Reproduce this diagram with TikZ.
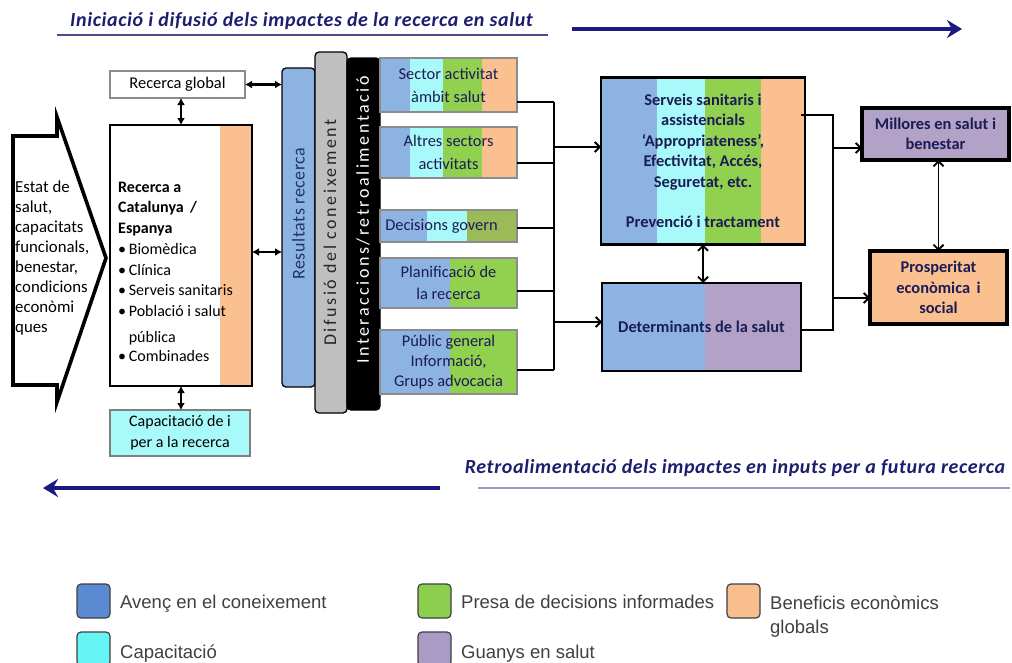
\documentclass[tikz,border=0pt]{standalone}
\usepackage{fontspec}
\setmainfont{Carlito}
\newfontfamily\legendfont{Liberation Sans}
\newfontfamily\barfont[LetterSpace=14]{Carlito}
\newfontfamily\resfont[LetterSpace=3]{Carlito}
\newfontfamily\headfont[LetterSpace=3]{Carlito}
\usetikzlibrary{arrows.meta,calc}

\definecolor{cBlue}{HTML}{8DB3E2}
\definecolor{cCyan}{HTML}{A8FAFA}
\definecolor{cGreen}{HTML}{92D050}
\definecolor{cOlive}{HTML}{9BBB59}
\definecolor{cOrange}{HTML}{FAC090}
\definecolor{cPurple}{HTML}{B3A2C7}
\definecolor{cGray}{HTML}{BFBFBF}
\definecolor{navy}{HTML}{1A1A82}
\definecolor{titleNavy}{HTML}{1E1E70}
\definecolor{txtNavy}{HTML}{1C1C55}
\definecolor{resNavy}{HTML}{1F3763}
\definecolor{lBlue}{HTML}{5A8AD2}
\definecolor{lCyan}{HTML}{66F4F4}
\definecolor{lGreen}{HTML}{8CCF4E}
\definecolor{lPurple}{HTML}{A99BC6}
\definecolor{lOrange}{HTML}{F8BE8E}

\tikzset{
  box/.style={inner sep=0pt, outer sep=0pt, align=center},
  graybox/.style={box, draw=black!45, line width=1.3pt},
  blackbox/.style={box, draw=black, line width=2pt},
  heavybox/.style={box, draw=black, line width=3.6pt},
  bar/.style={box, draw=black, line width=1.3pt, rounded corners=4pt},
  bartext/.style={rotate=90, inner sep=0pt},
  conn/.style={line width=1.8pt},
  arr/.style={conn, -{Straight Barb[length=5pt,width=10pt]}},
  dbl/.style={line width=2.2pt, {Latex[length=7pt,width=8pt]}-{Latex[length=7pt,width=8pt]}},
  dblbarb/.style={conn, {Straight Barb[length=5pt,width=10pt]}-{Straight Barb[length=5pt,width=10pt]}},
  bigarrow/.style={line width=4.5pt, navy, -{Stealth[length=15pt,width=18pt,inset=5pt]}},
  swatch/.style={draw=black!75, line width=1.2pt, rounded corners=4pt, minimum width=33pt, minimum height=34pt, inner sep=0pt},
  legtext/.style={font=\legendfont\fontsize{18.5}{24}\selectfont, text=black!75, inner sep=0pt},
  titletext/.style={font=\headfont\fontsize{20}{24}\selectfont\bfseries\itshape, text=titleNavy, inner sep=0pt}
}

\begin{document}
\begin{tikzpicture}[x=1pt, y=-1pt, font=\fontsize{16.4}{20}\selectfont]
\useasboundingbox[fill=white] (0,0) rectangle (1012,662);

% ---- headline and feedback arrows
\node[titletext, anchor=base] (toptitle) at (301.5,26) {Iniciació i difusió dels impactes de la recerca en salut};
\draw[line width=2.5pt, color=titleNavy!80] (57,35) -- (548,35);
\coordinate (topA) at (572,29);
\coordinate (topB) at (962,29);
\draw[bigarrow] (topA) -- (topB);

\node[titletext, anchor=base] (bottitle) at (735,473) {Retroalimentació dels impactes en inputs per a futura recerca};
\draw[line width=2.5pt, color=navy!45] (478,488) -- (1010,488);
\coordinate (botA) at (440,488);
\coordinate (botB) at (43,488);
\draw[bigarrow] (botA) -- (botB);

% ---- input chevron
\draw[line width=3.6pt, line join=miter] (13,136) -- (57,136) -- (57,117) -- (106,258) -- (57,402) -- (57,385) -- (13,385) -- cycle;
\node[anchor=north west, align=left, inner sep=0pt, font=\fontsize{16.8}{20}\selectfont] (estat) at (15,180.5)
  {Estat de\\salut,\\capacitats\\funcionals,\\benestar,\\condicions\\econòmi\\ques};

% ---- research boxes
\node[graybox, minimum width=135pt, minimum height=27pt] (rglobal) at (177.5,84.5) {Recerca global};
\fill[cOrange] (220,125) rectangle (252,386);
\node[blackbox, minimum width=142pt, minimum height=261pt] (main) at (181,255.5) {};
\node[anchor=north west, align=left, inner sep=0pt, font=\fontsize{16}{20.5}\selectfont] (maintext) at (118,181.5)
  {\textbf{Recerca a}\\\textbf{Catalunya \,/}\\\textbf{Espanya}\\[1pt]
   •\,Biomèdica\\•\,Clínica\\•\,Serveis sanitaris\\•\,Població i salut\\[6pt]
   \phantom{•\,}pública\\[-2pt]•\,Combinades};
\node[graybox, fill=cCyan, draw=black!50, minimum width=140pt, minimum height=46pt, font=\fontsize{16}{21}\selectfont] (capac) at (180,433)
  {Capacitació de i\\per a la recerca};

% ---- vertical bars
\node[bar, fill=cBlue, minimum width=33pt, minimum height=319pt] (resultats) at (298.5,227.5) {};
\node[bartext, text=resNavy, font=\resfont\fontsize{18}{20}\selectfont] (resultatsT) at (298.5,213.5) {Resultats recerca};
\node[bar, fill=cGray, minimum width=32pt, minimum height=361pt] (difusio) at (331,232.5) {};
\node[bartext, text=black!85, font=\barfont\fontsize{18}{20}\selectfont] (difusioT) at (330,232.5) {Difusió del coneixement};
\node[bar, fill=black, minimum width=33pt, minimum height=352pt] (interac) at (363.5,234) {};
\node[bartext, text=white, font=\barfont\fontsize{18}{20}\selectfont] (interacT) at (363,220) {Interaccions/retroalimentació};

% ---- outcome sectors (colour strips, then framed nodes)
\fill[cBlue] (380,58) rectangle (410,112);
\fill[cCyan] (410,58) rectangle (443,112);
\fill[cGreen] (443,58) rectangle (482,112);
\fill[cOrange] (482,58) rectangle (517,112);
\node[graybox, minimum width=137pt, minimum height=54pt, font=\fontsize{16.4}{23}\selectfont, text=txtNavy] (sector) at (448.5,85) {\raisebox{-3pt}{Sector activitat}\\\raisebox{-3pt}{àmbit salut}};

\fill[cBlue] (380,127) rectangle (410,178);
\fill[cCyan] (410,127) rectangle (443,178);
\fill[cGreen] (443,127) rectangle (482,178);
\fill[cOrange] (482,127) rectangle (517,178);
\node[graybox, minimum width=137pt, minimum height=51pt, font=\fontsize{16.4}{23}\selectfont, text=txtNavy] (altres) at (448.5,152.5) {Altres sectors\\activitats};

\fill[cBlue] (380,210) rectangle (427,242);
\fill[cCyan] (427,210) rectangle (467,242);
\fill[cOlive] (467,210) rectangle (517,242);
\node[graybox, minimum width=137pt, minimum height=32pt, text=txtNavy] (decisions) at (448.5,226) {\hspace*{-14pt}Decisions govern};

\fill[cBlue] (380,258) rectangle (450,308);
\fill[cGreen] (450,258) rectangle (517,308);
\node[graybox, minimum width=137pt, minimum height=50pt, font=\fontsize{16.4}{22}\selectfont, text=txtNavy] (planif) at (448.5,283) {Planificació de\\la recerca};

\fill[cBlue] (380,330) rectangle (450,394);
\fill[cGreen] (450,330) rectangle (517,394);
\node[graybox, minimum width=137pt, minimum height=64pt, font=\fontsize{16.4}{20}\selectfont, text=txtNavy] (public) at (448.5,362) {Públic general\\Informació,\\Grups advocacia};

% ---- health system boxes
\fill[cBlue] (601,76) rectangle (657,243);
\fill[cCyan] (657,76) rectangle (705,243);
\fill[cGreen] (705,76) rectangle (761,243);
\fill[cOrange] (761,76) rectangle (805,243);
\node[blackbox, line width=2.4pt, minimum width=204pt, minimum height=167pt, font=\fontsize{16.4}{20.5}\selectfont\bfseries, text=txtNavy] (serveis) at (703,161)
  {Serveis sanitaris i\\assistencials\\‘Appropriateness’,\\Efectivitat, Accés,\\Seguretat, etc.\\[20pt]Prevenció i tractament};

\fill[cBlue] (602,283) rectangle (705,371);
\fill[cPurple] (705,283) rectangle (801,371);
\node[blackbox, line width=2.4pt, minimum width=199pt, minimum height=88pt, font=\fontsize{16.4}{20}\selectfont\bfseries, text=txtNavy] (determ) at (701.5,327) {Determinants de la salut};

% ---- final outcomes
\node[heavybox, fill=cPurple, minimum width=147pt, minimum height=52pt, font=\fontsize{16.4}{20}\selectfont\bfseries, text=txtNavy] (millores) at (935.5,134) {Millores en salut i\\benestar};
\node[heavybox, fill=cOrange, minimum width=137pt, minimum height=73pt, font=\fontsize{16.4}{20.5}\selectfont\bfseries, text=txtNavy] (prosp) at (938.5,287.5) {Prosperitat\\econòmica \,i\\social};

% ---- two-way links around the research boxes
\draw[dbl] (main.north) -- (main.north |- rglobal.south);
\draw[dbl] (main.south) -- (main.south |- capac.north);
\draw[dbl] (rglobal.east) -- (resultats.west |- rglobal.east);
\coordinate (mainR) at (252,252);
\draw[dbl] (mainR) -- (resultats.west |- mainR);

% ---- collector from the sectors
\coordinate (jS) at (554,102);
\coordinate (jA) at (554,163);
\coordinate (jD) at (554,228);
\coordinate (jP) at (554,291);
\coordinate (jG) at (554,370);
\coordinate (jServ) at (554,147);
\coordinate (jDet) at (554,322);
\draw[conn] (sector.east |- jS) -- (jS);
\draw[conn] (altres.east |- jA) -- (jA);
\draw[conn] (decisions.east |- jD) -- (jD);
\draw[conn] (planif.east |- jP) -- (jP);
\draw[conn] (public.east |- jG) -- (jG);
\draw[conn] (jS) -- (jG);
\draw[arr] (jServ) -- (serveis.west |- jServ);
\draw[arr] (jDet) -- (determ.west |- jDet);

\draw[dblbarb] (serveis.south) -- (serveis.south |- determ.north);

% ---- collector towards the outcomes
\coordinate (kTop) at (833,115);
\coordinate (kBot) at (833,330);
\coordinate (kM) at (833,148);
\coordinate (kP) at (833,298);
\draw[conn] ([xshift=-4pt]serveis.east |- kTop) -- (kTop) -- (kBot) -- (determ.east |- kBot);
\draw[arr] (kM) -- (millores.west |- kM);
\draw[arr] (kP) -- (prosp.west |- kP);
\draw[dblbarb] (prosp.north) -- (prosp.north |- millores.south);

% ---- legend
\node[swatch, fill=lBlue] (swBlue) at (93.5,601) {};
\node[legtext, anchor=base west] (lgBlue) at (120,608.5) {Avenç en el coneixement};
\node[swatch, fill=lCyan] (swCyan) at (93.5,649) {};
\node[legtext, anchor=base west] (lgCyan) at (120,658.5) {Capacitació};
\node[swatch, fill=lGreen] (swGreen) at (434.5,601) {};
\node[legtext, anchor=base west] (lgGreen) at (461,608.5) {Presa de decisions informades};
\node[swatch, fill=lPurple] (swPurple) at (434.5,649) {};
\node[legtext, anchor=base west] (lgPurple) at (461,658.5) {Guanys en salut};
\node[swatch, fill=lOrange] (swOrange) at (743.5,601) {};
\node[legtext, anchor=north west, align=left] (lgOrange) at (770,595.5) {Beneficis econòmics\\globals};
\end{tikzpicture}
\end{document}
